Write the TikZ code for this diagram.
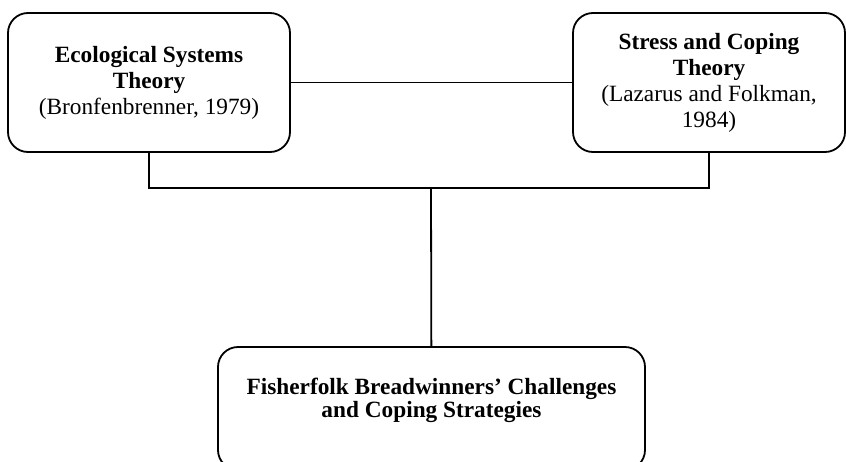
\documentclass[tikz,border=0pt]{standalone}
\usepackage{fontspec}
\setmainfont{Liberation Serif}
\usepackage{tikz}

\begin{document}
\begin{tikzpicture}[x=1pt,y=-1pt]
\tikzstyle{Block}=[draw, line width=1.8pt, rounded corners=20pt, align=center, font=\fontsize{23.3}{26}\selectfont];
\tikzstyle{link} = [line width=1.8pt];
\useasboundingbox (0,0) rectangle (846,461);
\node [Block,minimum width=282pt,minimum height=139pt] (v1) at (149,82.5) {\textbf{Ecological Systems}\\
\textbf{Theory}\\
(Bronfenbrenner, 1979)};
\node [Block,minimum width=272pt,minimum height=139pt] (v2) at (709,82.5) {\textbf{Stress and Coping}\\
\textbf{Theory}\\
(Lazarus and Folkman,\\
1984)};
\draw [link] (v1) -- (v2);
\node [Block,minimum width=427pt,minimum height=123pt,font=\fontsize{23.3}{22.5}\selectfont] (v3) at (431.5,408.5) {\textbf{Fisherfolk Breadwinners' Challenges}\\
\textbf{and Coping Strategies}\\[-1pt]};
\coordinate (mid) at (431,188);
\draw [link] (v1.south) |- (mid) -| (v2.south);
\draw [link] (mid) -- (v3);
\end{tikzpicture}
\end{document}
